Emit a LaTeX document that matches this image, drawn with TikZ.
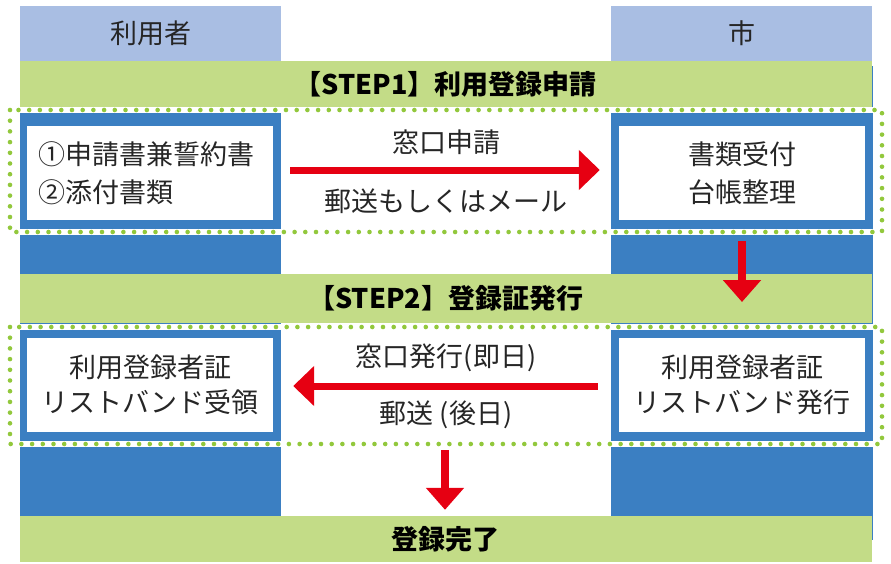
\documentclass[tikz,border=0pt]{standalone}
\usepackage{fontspec}
\setmainfont{Noto Sans CJK JP}
\usetikzlibrary{arrows.meta,calc}
\definecolor{hdrblue}{RGB}{169,190,227}
\definecolor{bandgreen}{RGB}{195,220,135}
\definecolor{colblue}{RGB}{59,127,194}
\definecolor{arrred}{RGB}{230,0,18}
\definecolor{dotgreen}{RGB}{146,200,60}
\definecolor{txtgray}{RGB}{38,38,38}
\begin{document}
\begin{tikzpicture}[x=1pt,y=-1pt,
  txt/.style={text=txtgray,font=\fontsize{27}{37}\selectfont,inner sep=0pt},
  hdr/.style={fill=hdrblue,draw=none,minimum width=261pt,minimum height=55pt,inner sep=0pt,text=txtgray,font=\fontsize{27}{37}\selectfont},
  band/.style={fill=bandgreen,draw=none,minimum width=851.5pt,inner sep=0pt,text=black,font=\fontsize{27}{37}\selectfont\bfseries},
  wbox/.style={fill=white,draw=none,minimum width=246pt,minimum height=94pt,inner sep=0pt,align=center,text=txtgray},
  rowa/.style={font=\fontsize{27}{38}\selectfont},
  rowb/.style={font=\fontsize{27}{35}\selectfont},
  dotwhite/.style={draw=white,line width=6pt},
  dotline/.style={draw=dotgreen,line width=4.6pt,line cap=round,dash pattern=on 0pt off 10.7pt},
  harrow/.style={draw=arrred,line width=7pt,-{Triangle[length=21pt,width=39pt]}},
  varrow/.style={draw=arrred,line width=8pt,-{Triangle[length=22pt,width=37pt]}}
]
\useasboundingbox (0,0) rectangle (891,563);
% columns
\fill[colblue] (20,61) rectangle (281,516);
\fill[colblue] (611,66) rectangle (872.5,540);
% headers
\node[hdr] (huser) at (150.5,33.5) {利用者};
\node[hdr] (hcity) at (741.5,33.5) {市};
% bands
\node[band,minimum height=46.5pt] (s1) at (445.75,84.25) {【STEP1】利用登録申請};
\node[band,minimum height=49pt] (s2) at (445.75,298.5) {【STEP2】登録証発行};
\node[band,minimum height=46pt] (s3) at (445.75,539) {登録完了};
% white boxes
\node[wbox,rowa,text width=224pt,align=left] (lbox1) at (150,173) {①申請書兼誓約書\\②添付書類};
\node[wbox,rowa] (rbox1) at (742,173) {書類受付\\台帳整理};
\node[wbox,rowb] (lbox2) at (150,385) {利用登録者証\\リストバンド受領};
\node[wbox,rowb] (rbox2) at (742,385) {利用登録者証\\リストバンド発行};
% dotted frames
\draw[dotwhite] (10,110) rectangle (882,232);
\draw[dotline] (10,110) rectangle (882,232);
\draw[dotwhite] (10,327) rectangle (882,444);
\draw[dotline] (10,327) rectangle (882,444);
% arrows
\draw[harrow] ([xshift=17pt,yshift=3pt]lbox1.east) -- ([xshift=-19pt,yshift=3pt]rbox1.west);
\draw[harrow] ([xshift=-21pt,yshift=-1pt]rbox2.west) -- ([xshift=20pt,yshift=-1pt]lbox2.east);
\coordinate (d1s) at ($(rbox1.south)+(0,21)$);
\coordinate (d1e) at ($(rbox1.south |- s2.center)+(0,3.5)$);
\draw[varrow] (d1s) -- (d1e);
\coordinate (m2) at ($(lbox2.south east)!0.5!(rbox2.south west)$);
\coordinate (d2s) at ($(m2)+(-1,18)$);
\coordinate (d2t) at ($(m2)+(-1,0)$);
\draw[varrow] (d2s) -- ([yshift=6pt]d2t |- s3.north);
% labels
\node[txt] (l1a) at ($(lbox1.east)!0.5!(rbox1.west)+(0,-31)$) {窓口申請};
\node[txt] (l1b) at ($(lbox1.east)!0.5!(rbox1.west)+(0,28)$) {郵送もしくはメール};
\node[txt] (l2a) at ($(lbox2.east)!0.5!(rbox2.west)+(0,-27)$) {窓口発行(即日)};
\node[txt] (l2b) at ($(lbox2.east)!0.5!(rbox2.west)+(0,30)$) {郵送 (後日)};
\end{tikzpicture}
\end{document}
